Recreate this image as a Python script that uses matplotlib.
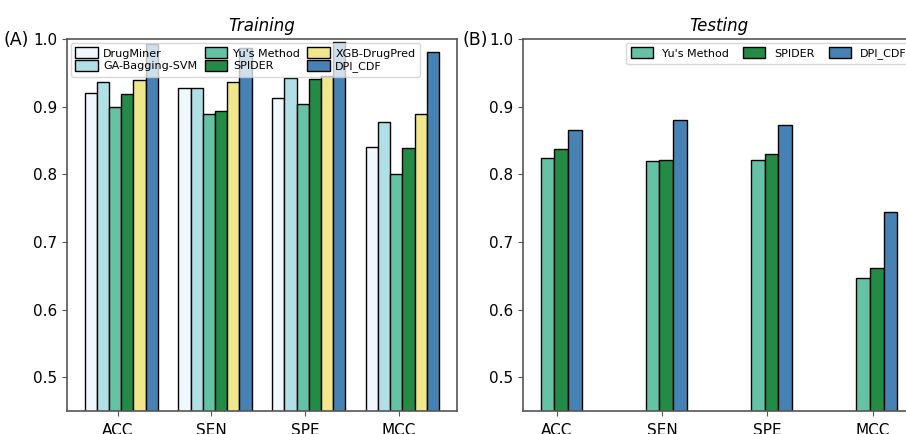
import numpy as np
import matplotlib.pyplot as plt

metrics = ['ACC', 'SEN', 'SPE', 'MCC']

# Training panel
train_methods = ['DrugMiner', 'GA-Bagging-SVM', "Yu's Method", 'SPIDER', 'XGB-DrugPred', 'DPI_CDF']
train_colors = ['aliceblue', 'powderblue', '#66c2a5', '#238b45', 'khaki', 'steelblue']
drugminer = [0.920, 0.927, 0.913, 0.841]
ga_bagging = [0.937, 0.927, 0.943, 0.878]
yu_train = [0.900, 0.889, 0.904, 0.800]
spider_train = [0.919, 0.894, 0.941, 0.839]
xgb = [0.940, 0.937, 0.945, 0.889]
dpi_train = [0.992, 0.987, 0.996, 0.981]
train_values = [drugminer, ga_bagging, yu_train, spider_train, xgb, dpi_train]

# Testing panel
test_methods = ["Yu's Method", 'SPIDER', 'DPI_CDF']
test_colors = ['#66c2a5', '#238b45', 'steelblue']
yu_test = [0.824, 0.820, 0.821, 0.646]
spider_test = [0.838, 0.821, 0.830, 0.661]
dpi_test = [0.865, 0.881, 0.873, 0.745]
test_values = [yu_test, spider_test, dpi_test]

width = 0.13
x = np.arange(len(metrics))

fig = plt.figure(figsize=(9.06, 4.34), dpi=100)
ax1 = fig.add_axes([0.074, 0.053, 0.430, 0.857])
ax2 = fig.add_axes([0.577, 0.053, 0.433, 0.857])

def draw_panel(ax, methods, colors, values, title):
    n = len(methods)
    for i, (name, col, vals) in enumerate(zip(methods, colors, values)):
        ax.bar(x + (i - (n - 1) / 2) * width + 0.04, vals, width,
               color=col, edgecolor='black', linewidth=1, label=name)
    ax.set_xticks(x)
    ax.set_xticklabels(metrics)
    ax.set_ylim(0.45, 1.0)
    ax.set_yticks([0.5, 0.6, 0.7, 0.8, 0.9, 1.0])
    ax.tick_params(labelsize=11, color='#555555')
    ax.tick_params(axis='x', pad=5)
    for s in ax.spines.values():
        s.set_color('#555555')
        s.set_linewidth(1.2)
    ax.set_title(title, fontsize=12, style='italic', pad=6)

draw_panel(ax1, train_methods, train_colors, train_values, 'Training')
draw_panel(ax2, test_methods, test_colors, test_values, 'Testing')

ax1.legend(loc='upper left', ncol=3, fontsize=8, labelspacing=0.15,
           handlelength=2.0, handleheight=1.1, columnspacing=0.7,
           handletextpad=0.5, borderaxespad=0.35, framealpha=0.75)
ax2.legend(loc='upper right', ncol=3, fontsize=8, handlelength=2.0,
           handleheight=1.1, columnspacing=1.3, borderaxespad=0.35,
           framealpha=0.75)

fig.text(0.004, 0.908, '(A)', fontsize=12.5, va='center')
fig.text(0.510, 0.908, '(B)', fontsize=12.5, va='center')

fig.savefig('out.png', dpi=100)
